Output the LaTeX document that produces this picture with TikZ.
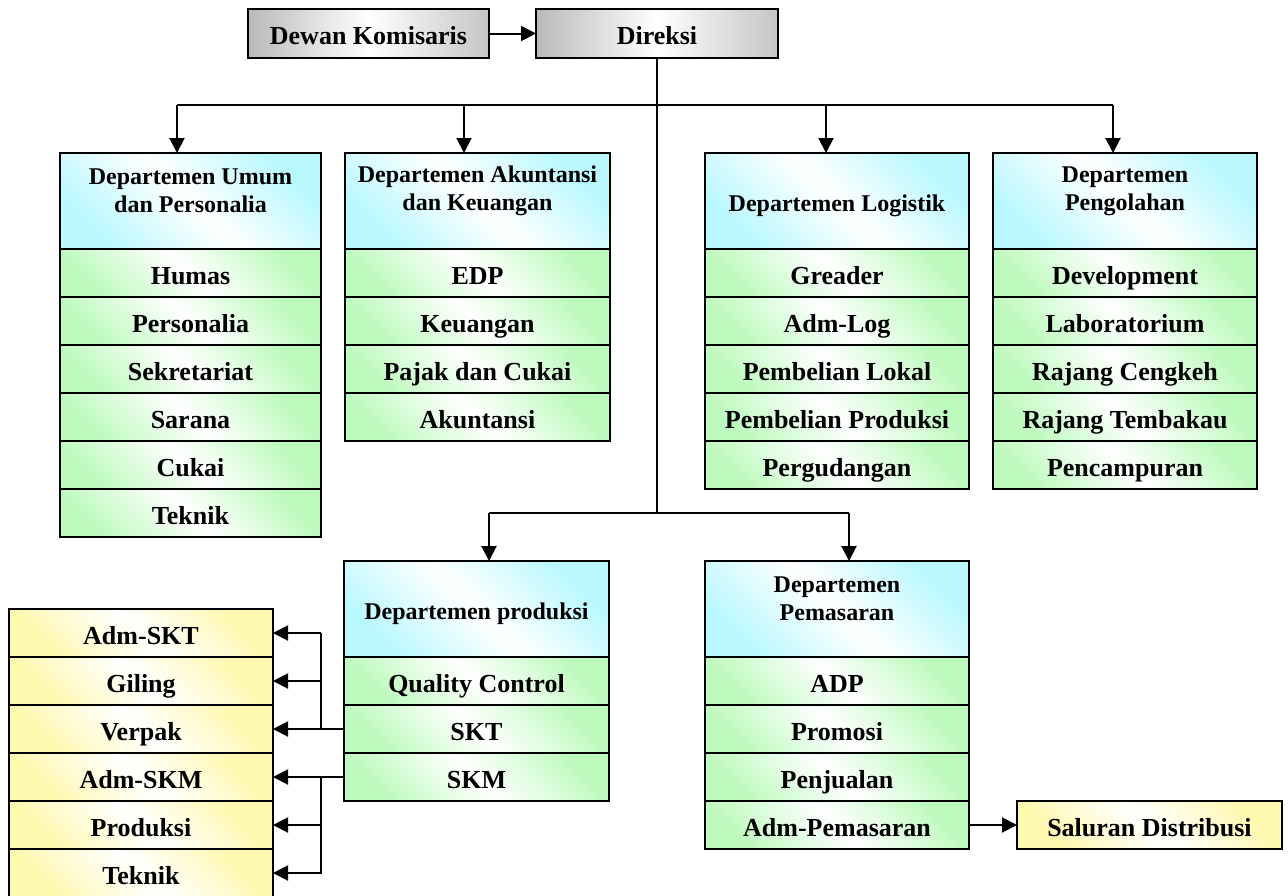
\documentclass[tikz,border=0pt]{standalone}
\usepackage{fontspec}
\setmainfont{Liberation Serif}
\usetikzlibrary{arrows.meta}
\definecolor{cyanL}{RGB}{185,248,255}
\definecolor{greenL}{RGB}{190,250,190}
\definecolor{yellowL}{RGB}{255,248,175}
\begin{document}
\begin{tikzpicture}[x=1pt,y=-1pt,
  every node/.style={inner sep=0pt, outer sep=0pt},
  box/.style={draw=black, line width=1.6pt, font=\fontsize{26}{30}\selectfont\bfseries, align=center, minimum height=48pt, text height=24pt, text depth=2pt},
  grey/.style={box, left color=gray!55, right color=gray!45, middle color=white, minimum height=49pt, minimum width=242pt},
  hdr/.style={box, left color=cyanL, right color=cyanL, middle color=white, shading angle=135, minimum height=96pt, font=\fontsize{24}{28}\selectfont\bfseries, text height=22pt, text depth=2pt},
  hlbl/.style={font=\fontsize{24}{28}\selectfont\bfseries, align=center, yshift=10pt},
  item/.style={box, left color=greenL, right color=greenL, middle color=white, shading angle=135},
  yitem/.style={box, left color=yellowL, right color=yellowL, middle color=white, shading angle=135, minimum width=264pt},
  conn/.style={line width=2pt},
  arr/.style={conn, -{Triangle[length=15pt,width=15pt]}},
]
\useasboundingbox (0,0) rectangle (1288,895);

% top
\node[grey, minimum width=241pt] (dk) at (368.5,33.5) {Dewan Komisaris};
\node[grey] (dir) at (657,33.5) {Direksi};

% Departemen Umum dan Personalia
\node[hdr, minimum width=261pt, label={[hlbl, name=hUt]center:{Departemen Umum\\dan Personalia}}] (hU) at (190.5,201) {};
\begin{scope}[every node/.append style={item, minimum width=261pt}]
\node (u1) at (190.5,273) {Humas};
\node (u2) at (190.5,321) {Personalia};
\node (u3) at (190.5,369) {Sekretariat};
\node (u4) at (190.5,417) {Sarana};
\node (u5) at (190.5,465) {Cukai};
\node (u6) at (190.5,513) {Teknik};
\end{scope}

% Departemen Akuntansi dan Keuangan
\node[hdr, minimum width=265pt, label={[hlbl, name=hAt]center:{Departemen Akuntansi\\dan Keuangan}}] (hA) at (477.5,201) {};
\begin{scope}[every node/.append style={item, minimum width=265pt}]
\node (a1) at (477.5,273) {EDP};
\node (a2) at (477.5,321) {Keuangan};
\node (a3) at (477.5,369) {Pajak dan Cukai};
\node (a4) at (477.5,417) {Akuntansi};
\end{scope}

% Departemen Logistik
\node[hdr, minimum width=264pt] (hL) at (837,201) {Departemen Logistik};
\begin{scope}[every node/.append style={item, minimum width=264pt}]
\node (l1) at (837,273) {Greader};
\node (l2) at (837,321) {Adm-Log};
\node (l3) at (837,369) {Pembelian Lokal};
\node (l4) at (837,417) {Pembelian Produksi};
\node (l5) at (837,465) {Pergudangan};
\end{scope}

% Departemen Pengolahan
\node[hdr, minimum width=264pt, label={[hlbl, name=hGt]center:{Departemen\\Pengolahan}}] (hG) at (1125,201) {};
\begin{scope}[every node/.append style={item, minimum width=264pt}]
\node (g1) at (1125,273) {Development};
\node (g2) at (1125,321) {Laboratorium};
\node (g3) at (1125,369) {Rajang Cengkeh};
\node (g4) at (1125,417) {Rajang Tembakau};
\node (g5) at (1125,465) {Pencampuran};
\end{scope}

% Departemen produksi
\node[hdr, minimum width=265pt] (hP) at (476.5,609) {Departemen produksi};
\begin{scope}[every node/.append style={item, minimum width=265pt}]
\node (p1) at (476.5,681) {Quality Control};
\node (p2) at (476.5,729) {SKT};
\node (p3) at (476.5,777) {SKM};
\end{scope}

% Departemen Pemasaran
\node[hdr, minimum width=264pt, label={[hlbl, name=hMt]center:{Departemen\\Pemasaran}}] (hM) at (837,609) {};
\begin{scope}[every node/.append style={item, minimum width=264pt}]
\node (m1) at (837,681) {ADP};
\node (m2) at (837,729) {Promosi};
\node (m3) at (837,777) {Penjualan};
\node (m4) at (837,825) {Adm-Pemasaran};
\end{scope}

% yellow units
\begin{scope}[every node/.append style={yitem}]
\node (y1) at (141,633) {Adm-SKT};
\node (y2) at (141,681) {Giling};
\node (y3) at (141,729) {Verpak};
\node (y4) at (141,777) {Adm-SKM};
\node (y5) at (141,825) {Produksi};
\node (y6) at (141,873) {Teknik};
\node[minimum width=265pt] (sal) at (1149.5,825) {Saluran Distribusi};
\end{scope}

% connectors
\draw[arr] (dk) -- (dir);
\coordinate (t1) at (177,105);
\coordinate (t2) at (464,105);
\coordinate (t3) at (826,105);
\coordinate (t4) at (1113,105);
\coordinate (j2) at (657,513);
\draw[conn] (dir.south) -- (j2);
\draw[conn] (t1) -- (t4);
\draw[arr] (t1) -- (t1 |- hU.north);
\draw[arr] (t2) -- (t2 |- hA.north);
\draw[arr] (t3) -- (t3 |- hL.north);
\draw[arr] (t4) -- (t4 |- hG.north);
\coordinate (s1) at (489,513);
\coordinate (s2) at (849,513);
\draw[conn] (s1) -- (s2);
\draw[arr] (s1) -- (s1 |- hP.north);
\draw[arr] (s2) -- (s2 |- hM.north);

\coordinate (b1) at (321,729);
\draw[arr] (p2.west) -- (y3.east);
\draw[conn] (b1) -- (b1 |- y1.east);
\draw[arr] (b1 |- y1.east) -- (y1.east);
\draw[arr] (b1 |- y2.east) -- (y2.east);
\coordinate (b2) at (321,777);
\draw[arr] (p3.west) -- (y4.east);
\draw[arr] (b2) |- (y6.east);
\draw[arr] (b2 |- y5.east) -- (y5.east);

\draw[arr] (m4.east) -- (sal.west);
\end{tikzpicture}
\end{document}
